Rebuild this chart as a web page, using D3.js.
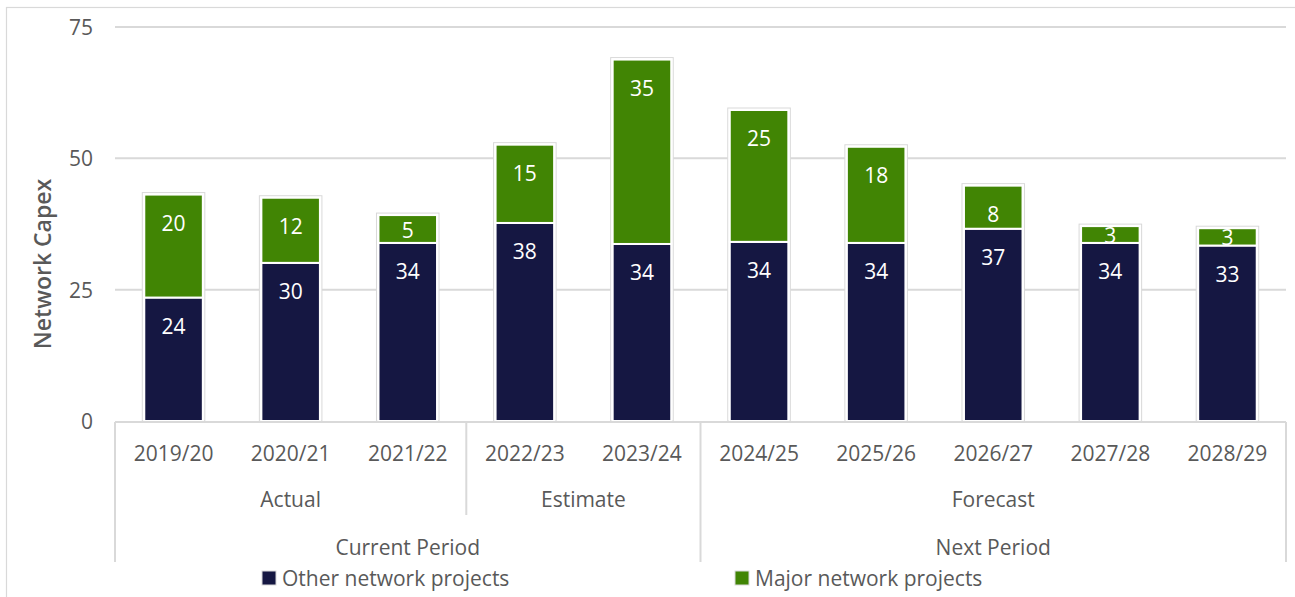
<!DOCTYPE html>
<html>
<head>
<meta charset="utf-8">
<script src="https://cdn.jsdelivr.net/npm/d3@7"></script>
<style>
  body { margin: 0; background: #fff; }
  svg { display: block; font-family: "Open Sans", "Noto Sans", sans-serif; }
  .grid line { stroke: #d9d9d9; stroke-width: 2; }
  .tick-label, .cat, .legend text { fill: #595959; font-size: 21px; }
</style>
</head>
<body>
<div id="chart"></div>
<script>
const years = ["2019/20", "2020/21", "2021/22", "2022/23", "2023/24", "2024/25", "2025/26", "2026/27", "2027/28", "2028/29"];
const phases = [
  { name: "Actual", from: 0, to: 2 },
  { name: "Estimate", from: 3, to: 4 },
  { name: "Forecast", from: 5, to: 9 },
];
const periods = [
  { name: "Current Period", from: 0, to: 4 },
  { name: "Next Period", from: 5, to: 9 },
];
const other = [23.5, 30.1, 33.9, 37.7, 33.7, 34.1, 33.9, 36.6, 33.9, 33.4];
const major = [19.6, 12.4, 5.3, 14.9, 35.1, 25.1, 18.3, 8.2, 3.2, 3.3];
const seriesNames = ["Other network projects", "Major network projects"];
const yTicks = [0, 25, 50, 75];

const width = 1295, height = 597;
const colors = ["#151742", "#418504"];

const svg = d3.select("#chart").append("svg")
  .attr("width", width).attr("height", height);

// outer chart frame
svg.append("rect")
  .attr("x", 6.5).attr("y", 7.5)
  .attr("width", width + 10).attr("height", height + 10)
  .attr("fill", "none").attr("stroke", "#d9d9d9").attr("stroke-width", 1.2);

const x = d3.scaleBand().domain(d3.range(years.length))
  .range([115, 1286]).paddingInner(0.5).paddingOuter(0.25);
const y = d3.scaleLinear().domain([0, 75]).range([421, 27]);

// gridlines
svg.append("g").attr("class", "grid")
  .selectAll("line").data(yTicks.filter((d) => d > 0)).join("line")
  .attr("x1", 115).attr("x2", 1286)
  .attr("y1", (d) => y(d)).attr("y2", (d) => y(d));

svg.append("g").selectAll("text").data(yTicks).join("text")
  .attr("class", "tick-label")
  .attr("x", 93).attr("y", (d) => y(d))
  .attr("text-anchor", "end").attr("dominant-baseline", "central")
  .text((d) => d);

svg.append("text")
  .attr("transform", "translate(42,264) rotate(-90)")
  .attr("text-anchor", "middle").attr("dominant-baseline", "central")
  .attr("fill", "#595959").attr("font-size", 23).attr("font-weight", 600)
  .text("Network Capex");

// stacked data
const rows = years.map((yr, i) => ({ i, other: other[i], major: major[i] }));
const stack = d3.stack().keys(["other", "major"])(rows);

const bars = svg.append("g");
// faint outline round each whole bar
bars.selectAll("rect.outline").data(rows).join("rect")
  .attr("class", "outline")
  .attr("x", (d) => x(d.i) - 2)
  .attr("y", (d) => y(d.other + d.major) - 2)
  .attr("width", x.bandwidth() + 4)
  .attr("height", (d) => y(0) - y(d.other + d.major) + 2)
  .attr("fill", "#fff").attr("stroke", "#d9d9d9").attr("stroke-width", 1);

stack.forEach((layer, k) => {
  bars.append("g").selectAll("rect").data(layer).join("rect")
    .attr("x", (d) => x(d.data.i))
    .attr("y", (d) => y(d[1]))
    .attr("width", x.bandwidth())
    .attr("height", (d) => y(d[0]) - y(d[1]))
    .attr("fill", colors[k])
    .attr("stroke", "#fff").attr("stroke-width", 2);
});

// value labels, near the top of each segment
const labels = svg.append("g");
stack.forEach((layer) => {
  labels.append("g").selectAll("text").data(layer).join("text")
    .attr("x", (d) => x(d.data.i) + x.bandwidth() / 2)
    .attr("y", (d) => {
      const top = y(d[1]), bottom = y(d[0]);
      return Math.min(top + 28, Math.max(bottom - 13, (top + bottom) / 2));
    })
    .attr("text-anchor", "middle").attr("dominant-baseline", "central")
    .attr("fill", "#fff").attr("font-size", 21)
    .text((d) => d3.format(".0f")(d[1] - d[0]));
});

// multi-level category axis
const axis = svg.append("g").attr("stroke", "#d9d9d9").attr("stroke-width", 2);
axis.append("line").attr("x1", 115).attr("x2", 1286).attr("y1", y(0) + 1).attr("y2", y(0) + 1);
const step = x.step();
const edge = (i) => x(i) - (step - x.bandwidth()) / 2;
const sepX = [
  { x: edge(0), y2: 562 },
  { x: edge(3), y2: 515 },
  { x: edge(5), y2: 562 },
  { x: edge(9) + step, y2: 562 },
];
axis.selectAll("line.sep").data(sepX).join("line")
  .attr("class", "sep")
  .attr("x1", (d) => d.x).attr("x2", (d) => d.x)
  .attr("y1", y(0) + 1).attr("y2", (d) => d.y2);

svg.append("g").selectAll("text").data(years).join("text")
  .attr("class", "cat")
  .attr("x", (d, i) => x(i) + x.bandwidth() / 2).attr("y", 453)
  .attr("text-anchor", "middle").attr("dominant-baseline", "central")
  .text((d) => d);

const groupCenter = (g) => (edge(g.from) + edge(g.to) + step) / 2;
svg.append("g").selectAll("text").data(phases).join("text")
  .attr("class", "cat")
  .attr("x", groupCenter).attr("y", 499)
  .attr("text-anchor", "middle").attr("dominant-baseline", "central")
  .text((d) => d.name);

svg.append("g").selectAll("text").data(periods).join("text")
  .attr("class", "cat")
  .attr("x", groupCenter).attr("y", 547)
  .attr("text-anchor", "middle").attr("dominant-baseline", "central")
  .text((d) => d.name);

// legend
const legendX = [262, 735];
const legend = svg.append("g").attr("class", "legend")
  .selectAll("g").data(seriesNames).join("g")
  .attr("transform", (d, i) => `translate(${legendX[i]},578)`);
legend.append("rect")
  .attr("x", 0).attr("y", -7).attr("width", 14).attr("height", 14)
  .attr("fill", (d, i) => colors[i]).attr("stroke", "#d9d9d9").attr("stroke-width", 1);
legend.append("text")
  .attr("x", 20).attr("y", 0).attr("dominant-baseline", "central")
  .text((d) => d);
</script>
</body>
</html>
